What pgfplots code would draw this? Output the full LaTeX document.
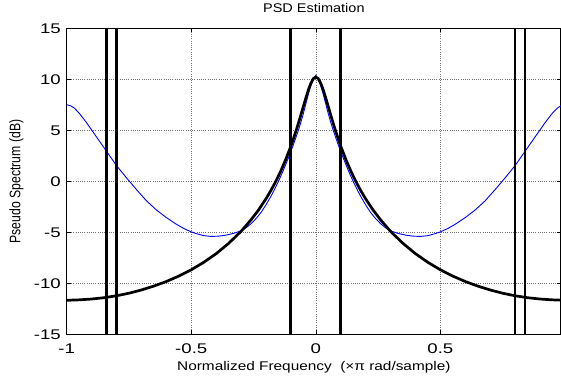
\documentclass[border=0pt]{standalone}
\usepackage{fontspec}
\setmainfont{Liberation Sans}
\newfontfamily\tickfont{Liberation Sans}[FakeStretch=1.33]
\newfontfamily\labfont{Liberation Sans}[FakeStretch=1.22]
\newfontfamily\titfont{Liberation Sans}[FakeStretch=1.15]
\newfontfamily\ylabfont{Liberation Sans}[FakeStretch=0.8]
\usepackage{pgfplots}
\pgfplotsset{compat=1.18}
\begin{document}
\begin{tikzpicture}
\begin{axis}[
  width=494.3pt, height=305.8pt, scale only axis,
  xmin=-1, xmax=0.984375, ymin=-15, ymax=15,
  xtick={-1,-0.5,0,0.5}, xticklabels={-1,-0.5,0,0.5},
  ytick={-15,-10,-5,0,5,10,15}, yticklabels={-15,-10,-5,0,5,10,15},
  tick align=inside, major tick length=4pt,
  tick style={black, line width=0.6pt},
  grid=major, major grid style={black!55, dash pattern=on 1pt off 1.2pt, line width=0.5pt},
  axis line style={line width=1.2pt},
  xticklabel style={font=\tickfont\fontsize{14}{16}\selectfont, anchor=north, inner sep=0pt, yshift=-9.7pt},
  yticklabel style={font=\tickfont\fontsize{14}{16}\selectfont, anchor=east, inner sep=0pt, xshift=-5.7pt},
  title={PSD Estimation},
  title style={font=\titfont\fontsize{12.6}{14}\selectfont, at={(axis description cs:0.5,1)}, anchor=base, yshift=10.2pt, inner sep=0pt},
  xlabel={Normalized Frequency\ \ (×π rad/sample)},
  xlabel style={font=\labfont\fontsize{12.6}{14}\selectfont, at={(axis description cs:0.5,0)}, anchor=base, yshift=-35.7pt, inner sep=0pt},
  ylabel={Pseudo Spectrum (dB)},
  ylabel style={font=\ylabfont\fontsize{15.3}{17}\selectfont, at={([xshift=-46.4pt]axis description cs:0,0.5)}, anchor=base, inner sep=0pt},
]
% blue pseudo spectrum
\addplot[color={rgb,255:red,0;green,0;blue,255}, line width=0.9pt] coordinates {
(-1,7.52) (-0.984,7.42) (-0.97,7.20) (-0.95,6.70) (-0.92,5.75) (-0.88,4.35) (-0.84,2.95) (-0.80,1.55) (-0.76,0.35) (-0.72,-0.80) (-0.68,-1.90) (-0.64,-2.80) (-0.60,-3.55) (-0.56,-4.20) (-0.53,-4.62) (-0.50,-4.95) (-0.48,-5.12) (-0.45,-5.32) (-0.42,-5.40) (-0.39,-5.37) (-0.36,-5.27) (-0.33,-5.10) (-0.30,-4.85) (-0.28,-4.55) (-0.26,-4.15) (-0.24,-3.65) (-0.22,-3.05) (-0.20,-2.30) (-0.18,-1.45) (-0.17,-1.00) (-0.16,-0.50) (-0.15,0.00) (-0.14,0.55) (-0.13,1.10) (-0.12,1.70) (-0.11,2.30) (-0.10,2.95) (-0.09,3.60) (-0.08,4.30) (-0.07,5.00) (-0.06,5.80) (-0.05,6.65) (-0.04,7.60) (-0.03,8.55) (-0.02,9.35) (-0.01,10.05)
(0,10.40)
(0.01,10.05) (0.02,9.35) (0.03,8.55) (0.04,7.60) (0.05,6.65) (0.06,5.80) (0.07,5.00) (0.08,4.30) (0.09,3.60) (0.10,2.95) (0.11,2.30) (0.12,1.70) (0.13,1.10) (0.14,0.55) (0.15,0.00) (0.16,-0.50) (0.17,-1.00) (0.18,-1.45) (0.20,-2.30) (0.22,-3.05) (0.24,-3.65) (0.26,-4.15) (0.28,-4.55) (0.30,-4.85) (0.33,-5.10) (0.36,-5.27) (0.39,-5.37) (0.42,-5.40) (0.45,-5.32) (0.48,-5.12) (0.50,-4.95) (0.53,-4.62) (0.56,-4.20) (0.60,-3.55) (0.64,-2.80) (0.68,-1.90) (0.72,-0.80) (0.76,0.35) (0.80,1.55) (0.84,2.95) (0.88,4.35) (0.92,5.75) (0.95,6.70) (0.97,7.20) (0.984375,7.42)
};
% black spectrum
\addplot[black, line width=2.7pt] coordinates {
(-1,-11.65) (-0.984,-11.65) (-0.95,-11.62) (-0.90,-11.54) (-0.85,-11.41) (-0.80,-11.22) (-0.75,-10.97) (-0.70,-10.65) (-0.65,-10.27) (-0.60,-9.82) (-0.55,-9.29) (-0.50,-8.67) (-0.45,-7.94) (-0.40,-7.09) (-0.35,-6.08) (-0.30,-4.90) (-0.26,-3.77) (-0.23,-2.81) (-0.20,-1.71) (-0.18,-0.88) (-0.16,0.03) (-0.14,1.05) (-0.12,2.19) (-0.10,3.47) (-0.09,4.17) (-0.08,4.91) (-0.07,5.69) (-0.06,6.51) (-0.05,7.35) (-0.04,8.18) (-0.03,8.97) (-0.02,9.62) (-0.01,10.08)
(0,10.24)
(0.01,10.08) (0.02,9.62) (0.03,8.97) (0.04,8.18) (0.05,7.35) (0.06,6.51) (0.07,5.69) (0.08,4.91) (0.09,4.17) (0.10,3.47) (0.12,2.19) (0.14,1.05) (0.16,0.03) (0.18,-0.88) (0.20,-1.71) (0.23,-2.81) (0.26,-3.77) (0.30,-4.90) (0.35,-6.08) (0.40,-7.09) (0.45,-7.94) (0.50,-8.67) (0.55,-9.29) (0.60,-9.82) (0.65,-10.27) (0.70,-10.65) (0.75,-10.97) (0.80,-11.22) (0.85,-11.41) (0.90,-11.54) (0.95,-11.62) (0.984375,-11.65)
};
% vertical markers
\addplot[black, line width=2.8pt] coordinates {(-0.84,-15) (-0.84,15)};
\addplot[black, line width=2.8pt] coordinates {(-0.80,-15) (-0.80,15)};
\addplot[black, line width=2.8pt] coordinates {(-0.10,-15) (-0.10,15)};
\addplot[black, line width=2.8pt] coordinates {(0.10,-15) (0.10,15)};
\addplot[black, line width=2.8pt] coordinates {(0.80,-15) (0.80,15)};
\addplot[black, line width=2.8pt] coordinates {(0.84,-15) (0.84,15)};
\end{axis}
\pgfresetboundingbox
\path[use as bounding box] ([xshift=-66.7pt,yshift=-42.7pt]current axis.south west) rectangle ([yshift=28.5pt]current axis.north east);
\end{tikzpicture}
\end{document}
